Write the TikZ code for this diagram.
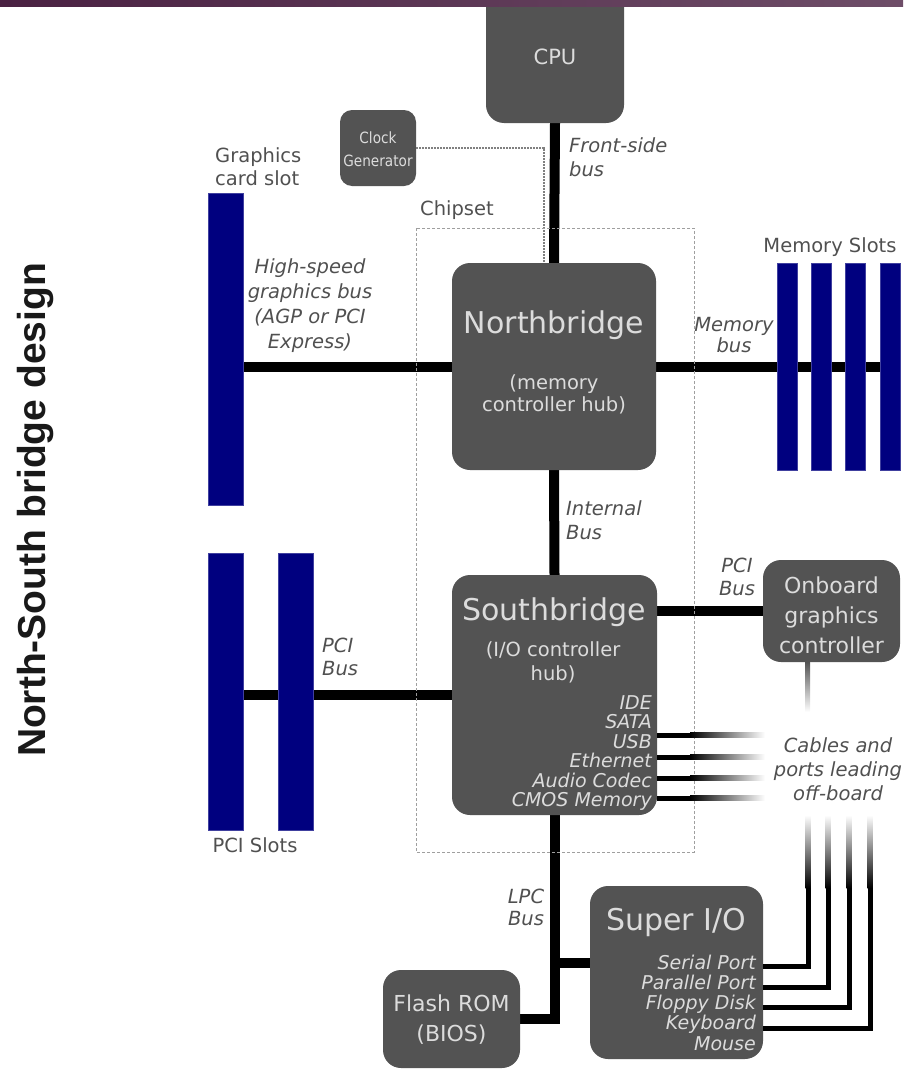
\documentclass[tikz,border=0pt]{standalone}
\usepackage{fontspec}
\setmainfont{DejaVu Sans}
\newfontfamily\titlefont{Liberation Sans}
\newfontfamily\condfont[FakeStretch=0.88]{DejaVu Sans}
\usetikzlibrary{positioning,backgrounds}

\definecolor{chipgray}{HTML}{535353}
\definecolor{chiptext}{HTML}{DCDCDC}
\definecolor{labelgray}{HTML}{505050}
\definecolor{slotblue}{HTML}{00007F}
\definecolor{barpurple}{HTML}{4A2142}

\tikzset{
  chip/.style={fill=chipgray, rounded corners=18pt, inner sep=0pt},
  slot/.style={fill=slotblue, draw=slotblue!75!white, line width=0.8pt, inner sep=0pt},
  bus/.style={line width=10pt, black},
  cable/.style={line width=5pt, black},
  boxtitle/.style={text=chiptext, font=\fontsize{30}{32}\selectfont},
  boxtext/.style={text=chiptext, font=\fontsize{19.5}{22}\selectfont, align=center},
  buslabel/.style={text=labelgray, font=\itshape\fontsize{19.5}{24}\selectfont},
  partlabel/.style={text=labelgray, font=\fontsize{19.5}{23}\selectfont},
  portlabel/.style={text=chiptext, font=\itshape\fontsize{19}{20}\selectfont, inner sep=0pt},
}

\begin{document}
\begin{tikzpicture}[x=1pt, y=-1pt]
\useasboundingbox (0,0) rectangle (903,1071);

% chips
\node[chip, minimum width=138pt, minimum height=138pt] (cpu)   at (555,54) {};
\node[chip, rounded corners=12pt, minimum width=76pt, minimum height=76pt] (clock) at (378,148) {};
\node[chip, minimum width=204pt, minimum height=207pt] (nb)    at (554,366.5) {};
\node[chip, minimum width=205pt, minimum height=240pt] (sb)    at (554.5,695) {};
\node[chip, minimum width=137pt, minimum height=102pt] (ogc)   at (831.5,611) {};
\node[chip, minimum width=173pt, minimum height=173pt] (sio)   at (676.5,972.5) {};
\node[chip, minimum width=137pt, minimum height=98pt]  (flash) at (451.5,1019) {};

% slots
\node[slot, minimum width=35pt, minimum height=312pt] (agp) at (225.5,349) {};
\node[slot, minimum width=35pt, minimum height=277pt] (pci1) at (225.5,691.5) {};
\node[slot, minimum width=35pt, minimum height=277pt] (pci2) at (295.5,691.5) {};
\foreach \x [count=\i] in {787,821,855,890}
  \node[slot, minimum width=20pt, minimum height=207pt] (mem\i) at (\x,366.5) {};

% buses
\begin{scope}[on background layer]
\draw[bus] (cpu.south) -- (nb.north);
\draw[bus] (nb.west) -- (nb.west -| agp.east);
\draw[bus] (nb.east) -- (nb.east -| mem4.west);
\draw[bus] (nb.south) -- (sb.north);
\draw[bus] (sb.west) -- (sb.west -| pci1.east);
\draw[bus] (ogc.west) -- (ogc.west -| sb.east);
\draw[bus] (sb.south) |- (flash.east);
\draw[bus] ([yshift=10pt]sio.west) -- ([yshift=10pt]sio.west -| sb.south);
\end{scope}

% clock line and chipset frame
\draw[black!50, line width=2.5pt, dash pattern=on 2pt off 1pt] (clock.east) -| ([xshift=-10pt]nb.north);
\draw[gray!75, line width=0.8pt, dash pattern=on 3pt off 2pt] (416,228) rectangle (694,852);

% cables leading off-board
\foreach \y in {735,757,778,798} {
  \fill[black] (sb.east |- 0,\y-2.5) rectangle (690,\y+2.5);
  \shade[left color=black, right color=white] (690,\y-2.5) rectangle (765,\y+2.5);
}
\foreach \y/\x [count=\i] in {966/808,987/828,1007/849,1028/870} {
  \coordinate (sioc\i) at (\x,885);
  \draw[cable] (sio.east |- 0,\y) -| (sioc\i);
  \shade[bottom color=black, top color=white] (\x-2.5,888) rectangle (\x+2.5,815);
}
\shade[top color=chipgray, bottom color=white] (805,662) rectangle (810,712);

% chip texts
\node[text=chiptext, font=\fontsize{21}{24}\selectfont] at (555,57) {CPU};
\node[text=chiptext, font=\condfont\fontsize{15.5}{23}\selectfont, align=center] at (378,149) {Clock\\Generator};
\node[boxtitle] at (554,325) {Northbridge};
\node[boxtext] at (554,394) {(memory\\controller hub)};
\node[boxtitle] at (554,612) {Southbridge};
\node[boxtext, font=\fontsize{19.5}{24}\selectfont] at (553,662) {(I/O controller\\hub)};
\foreach \t [count=\i] in {IDE,SATA,USB,Ethernet,Audio Codec,CMOS Memory}
  \node[portlabel, anchor=base east] (sbport\i) at (652,690+19.4*\i) {\t};
\node[boxtext, font=\fontsize{22}{30}\selectfont] at (831.5,615) {Onboard\\graphics\\controller};
\node[boxtitle] at (676,922) {Super I/O};
\foreach \t [count=\i] in {Serial Port,Parallel Port,Floppy Disk,Keyboard,Mouse}
  \node[portlabel, anchor=base east] (sioport\i) at (756,949+20.2*\i) {\t};
\node[boxtext, font=\fontsize{22}{30}\selectfont] at (451.5,1020) {Flash ROM\\(BIOS)};

% labels
\node[buslabel, align=left, anchor=west, inner sep=0pt] at (569,157) {Front-side\\bus};
\node[partlabel, align=left, anchor=west, inner sep=0pt] at (215,167) {Graphics\\card slot};
\node[partlabel] at (457,210) {Chipset};
\node[buslabel, align=center, font=\itshape\fontsize{19.5}{25}\selectfont] at (310,306) {High-speed\\graphics bus\\(AGP or PCI\\Express)};
\node[buslabel, align=center, font=\itshape\fontsize{19.5}{21}\selectfont] at (734,335) {Memory\\bus};
\node[partlabel] at (830,247) {Memory Slots};
\node[buslabel, align=left, anchor=west, inner sep=0pt] at (566,520) {Internal\\Bus};
\node[buslabel, align=center, font=\itshape\fontsize{19.5}{23}\selectfont] at (737,577) {PCI\\Bus};
\node[buslabel, align=left, anchor=west, inner sep=0pt, font=\itshape\fontsize{19.5}{23}\selectfont] at (322,657) {PCI\\Bus};
\node[partlabel] at (255,845) {PCI Slots};
\node[buslabel, align=center, font=\itshape\fontsize{19.5}{22}\selectfont] at (526,907) {LPC\\Bus};
\node[buslabel, align=center] at (838,769) {Cables and\\ports leading\\off-board};

% title and top bar
\node[rotate=90, text=black!90, font=\titlefont\bfseries\fontsize{39}{40}\selectfont] (title) at (36,510) {North-South bridge design};
\shade[left color=barpurple, right color=barpurple!80!white] (0,0) rectangle (903,6);
\end{tikzpicture}
\end{document}
